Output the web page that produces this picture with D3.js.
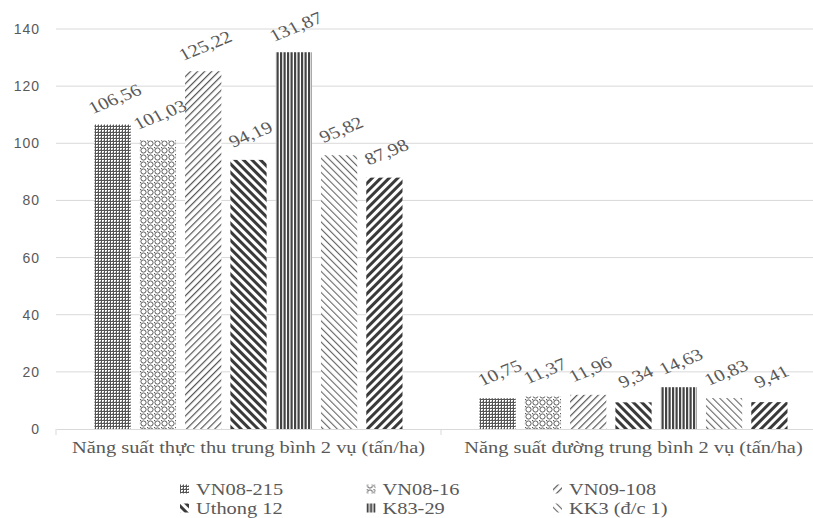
<!DOCTYPE html>
<html>
<head>
<meta charset="utf-8">
<script src="https://cdn.jsdelivr.net/npm/d3@7"></script>
<style>
  html, body { margin: 0; padding: 0; background: #fff; }
  svg { display: block; }
</style>
</head>
<body>
<svg id="chart" width="813" height="518"></svg>
<script>
// Categories on the x axis
const categories = [
  "Năng suất thực thu trung bình 2 vụ (tấn/ha)",
  "Năng suất đường trung bình 2 vụ (tấn/ha)"
];
// Varieties (series); the last one has no visible legend entry
const seriesNames = ["VN08-215", "VN08-16", "VN09-108", "Uthong 12", "K83-29", "KK3 (đ/c 1)", ""];
// Values per series, one per category
const yieldValues = [106.56, 101.03, 125.22, 94.19, 131.87, 95.82, 87.98];
const sugarValues = [10.75, 11.37, 11.96, 9.34, 14.63, 10.83, 9.41];
const yTicks = [0, 20, 40, 60, 80, 100, 120, 140];

const valuesByCategory = [yieldValues, sugarValues];

const svg = d3.select("#chart");
const textColor = "#595959";
const gridColor = "#d9d9d9";
const serif = "'Liberation Serif', 'Times New Roman', serif";
const stretch = "scale(1.2,1)"; // wide serif lettering

// Fill patterns for each variety
const defs = svg.append("defs");
function linePattern(id, angle, spacing, width, color) {
  const p = defs.append("pattern").attr("id", id)
    .attr("patternUnits", "userSpaceOnUse")
    .attr("width", spacing).attr("height", spacing)
    .attr("patternTransform", `rotate(${angle})`);
  p.append("rect").attr("width", spacing).attr("height", spacing).attr("fill", "#fff");
  p.append("rect").attr("x", 0).attr("y", 0).attr("width", width).attr("height", spacing).attr("fill", color);
}
// 0: fine dotted grid
{
  const p = defs.append("pattern").attr("id", "pat0").attr("patternUnits", "userSpaceOnUse")
    .attr("width", 3).attr("height", 3);
  p.append("rect").attr("width", 3).attr("height", 3).attr("fill", "#fff");
  p.append("rect").attr("width", 3).attr("height", 1).attr("fill", "#555");
  p.append("rect").attr("width", 1).attr("height", 3).attr("fill", "#555");
  p.append("rect").attr("x", 2).attr("y", 2).attr("width", 1).attr("height", 1).attr("fill", "#aaa");
}
// 1: lattice of rings
{
  const p = defs.append("pattern").attr("id", "pat1").attr("patternUnits", "userSpaceOnUse")
    .attr("width", 7).attr("height", 7);
  p.append("rect").attr("width", 7).attr("height", 7).attr("fill", "#fff");
  p.append("circle").attr("cx", 3.5).attr("cy", 3.5).attr("r", 2.6)
    .attr("fill", "none").attr("stroke", "#5a5a5a").attr("stroke-width", 1);
  p.append("rect").attr("x", 0).attr("y", 0).attr("width", 1.2).attr("height", 1.2).attr("fill", "#5a5a5a");
}
linePattern("pat2", 45, 5, 1.2, "#555");   // light upward diagonal
linePattern("pat3", -45, 6, 3, "#3a3a3a"); // wide downward diagonal
{
  // dark vertical stripes
  const p = defs.append("pattern").attr("id", "pat4").attr("patternUnits", "userSpaceOnUse")
    .attr("width", 7).attr("height", 8);
  p.append("rect").attr("width", 7).attr("height", 8).attr("fill", "#fff");
  p.append("rect").attr("x", 0).attr("width", 2.2).attr("height", 8).attr("fill", "#444");
  p.append("rect").attr("x", 3.5).attr("width", 2.2).attr("height", 8).attr("fill", "#444");
}
linePattern("pat5", -45, 5, 1.1, "#666");  // light downward diagonal
linePattern("pat6", 45, 6, 3, "#3a3a3a");  // wide upward diagonal

// Scales
const plotLeft = 56, plotRight = 826, plotTop = 29, plotBottom = 429;
const x0 = d3.scaleBand().domain(categories).range([plotLeft, plotRight]).paddingInner(0).paddingOuter(0);
const x1 = d3.scaleBand().domain(d3.range(seriesNames.length)).range([0, x0.bandwidth()])
  .paddingInner(0.2).paddingOuter(0.85);
const y = d3.scaleLinear().domain([0, 140]).range([plotBottom, plotTop]);

// Gridlines
svg.append("g").selectAll("line").data(yTicks.filter(d => d > 0)).join("line")
  .attr("x1", plotLeft).attr("x2", plotRight)
  .attr("y1", d => y(d)).attr("y2", d => y(d))
  .attr("stroke", gridColor).attr("stroke-width", 1);

// Y axis labels
const yAxis = d3.axisLeft(y).tickValues(yTicks).tickSize(0).tickPadding(16);
const yg = svg.append("g").attr("transform", `translate(${plotLeft},0)`).call(yAxis);
yg.select(".domain").remove();
yg.selectAll("text").attr("fill", textColor)
  .style("font-family", "'Liberation Sans', Arial, sans-serif").style("font-size", "14px")
  .style("letter-spacing", "1px");

// X axis
const xAxis = d3.axisBottom(x0).tickSize(0).tickPadding(12);
const xg = svg.append("g").attr("transform", `translate(0,${plotBottom})`).call(xAxis);
xg.select(".domain").attr("stroke", gridColor);
xg.selectAll("text").attr("fill", textColor).attr("transform", stretch)
  .style("font-family", serif).style("font-size", "17px");
// category separators
svg.append("g").selectAll("line")
  .data([plotLeft, ...categories.map(c => x0(c) + x0.bandwidth())]).join("line")
  .attr("x1", d => d).attr("x2", d => d)
  .attr("y1", plotBottom).attr("y2", plotBottom + 6)
  .attr("stroke", gridColor);

// Bars and value labels
const groups = svg.append("g").selectAll("g").data(categories).join("g")
  .attr("transform", c => `translate(${x0(c)},0)`);

groups.selectAll("rect").data((c, i) => valuesByCategory[i].map((v, j) => ({ v, j }))).join("rect")
  .attr("x", d => x1(d.j)).attr("width", x1.bandwidth())
  .attr("y", d => y(d.v)).attr("height", d => y(0) - y(d.v))
  .attr("fill", d => `url(#pat${d.j})`);

const fmt = v => v.toFixed(2).replace(".", ",");
groups.selectAll("text.val").data((c, i) => valuesByCategory[i].map((v, j) => ({ v, j }))).join("text")
  .attr("class", "val")
  .attr("transform", d => `translate(${x1(d.j) + x1.bandwidth() / 2 + 3},${y(d.v) - 24}) ${stretch} rotate(-26)`)
  .attr("text-anchor", "middle").attr("dominant-baseline", "middle")
  .attr("fill", textColor)
  .style("font-family", serif).style("font-size", "17px")
  .text(d => fmt(d.v));

// Legend, three columns
const legendItems = seriesNames.map((n, j) => ({ n, j })).filter(d => d.n);
const legend = svg.append("g").selectAll("g").data(legendItems).join("g")
  .attr("transform", (d, i) => `translate(${180 + (i % 3) * 186.5},${489 + Math.floor(i / 3) * 19})`);
legend.append("rect").attr("x", 0).attr("y", -4.5).attr("width", 9).attr("height", 9)
  .attr("fill", d => `url(#pat${d.j})`);
legend.append("text").attr("transform", `translate(16,6) ${stretch}`).attr("fill", textColor)
  .style("font-family", serif).style("font-size", "17px")
  .text(d => d.n);
</script>
</body>
</html>
